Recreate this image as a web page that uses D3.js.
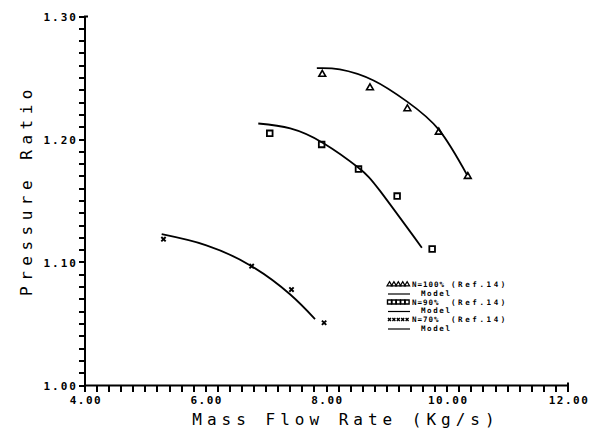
<!DOCTYPE html>
<html>
<head>
<meta charset="utf-8">
<script src="https://cdn.jsdelivr.net/npm/d3@7"></script>
<style>
  html, body { margin: 0; padding: 0; background: #fff; }
  svg { display: block; }
  text { fill: #000; font-family: "DejaVu Sans Mono", monospace; }
</style>
</head>
<body>
<svg id="chart" width="597" height="436"></svg>
<script>
const flow100 = [7.93, 8.72, 9.34, 9.86, 10.34];
const ratio100 = [1.253, 1.242, 1.225, 1.206, 1.170];
const modelFlow100 = [7.84, 8.22, 8.78, 9.33, 9.86, 10.33];
const modelRatio100 = [1.258, 1.257, 1.248, 1.231, 1.208, 1.171];

const flow90 = [7.06, 7.92, 8.53, 9.17, 9.75];
const ratio90 = [1.205, 1.196, 1.176, 1.154, 1.111];
const modelFlow90 = [6.87, 7.40, 7.95, 8.53, 8.89, 9.58];
const modelRatio90 = [1.213, 1.209, 1.197, 1.177, 1.158, 1.112];

const flow70 = [5.30, 6.76, 7.42, 7.96];
const ratio70 = [1.119, 1.097, 1.078, 1.051];
const modelFlow70 = [5.27, 6.01, 6.76, 7.40, 7.81];
const modelRatio70 = [1.123, 1.114, 1.097, 1.074, 1.054];

const xTicks = [4, 6, 8, 10, 12];
const yTicks = [1.0, 1.1, 1.2, 1.3];
const legendLabels = ['N=100%', 'N=90%', 'N=70%'];

const svg = d3.select('#chart');

const x = d3.scaleLinear().domain([4, 12]).range([85, 568]);
const y = d3.scaleLinear().domain([1.0, 1.3]).range([385.5, 16.5]);

// axis frame
const axisPath = d3.path();
axisPath.moveTo(x(4) + 3, y(1.3));
axisPath.lineTo(x(4), y(1.3));
axisPath.lineTo(x(4), y(1.0));
axisPath.lineTo(x(12), y(1.0));
axisPath.lineTo(x(12), y(1.0) - 3);

svg.append('path')
  .attr('d', axisPath.toString())
  .attr('fill', 'none')
  .attr('stroke', '#000')
  .attr('stroke-width', 2);

// minor ticks, 0.2 on x and 0.01 on y, as small rects
svg.append('g')
  .selectAll('rect')
  .data(x.ticks(40))
  .join('rect')
  .attr('x', d => Math.round(x(d)) - 1)
  .attr('y', Math.round(y(1.0)))
  .attr('width', 2)
  .attr('height', 6)
  .attr('fill', '#000');

svg.append('g')
  .selectAll('rect')
  .data(y.ticks(30))
  .join('rect')
  .attr('x', x(4) - 6)
  .attr('y', d => Math.round(y(d)) - 1)
  .attr('width', 6)
  .attr('height', 2)
  .attr('fill', '#000');

svg.append('g')
  .selectAll('text')
  .data(xTicks)
  .join('text')
  .attr('x', d => x(d) + 1)
  .attr('y', 404)
  .attr('text-anchor', 'middle')
  .style('font-size', '11px')
  .style('font-weight', 'bold')
  .style('letter-spacing', '1.5px')
  .text(d => d.toFixed(2));

svg.append('g')
  .selectAll('text')
  .data(yTicks)
  .join('text')
  .attr('x', 78)
  .attr('y', d => y(d) + 4)
  .attr('text-anchor', 'end')
  .style('font-size', '11px')
  .style('font-weight', 'bold')
  .style('letter-spacing', '2px')
  .text(d => d.toFixed(2));

// axis titles
svg.append('text')
  .attr('x', 346)
  .attr('y', 425)
  .attr('text-anchor', 'middle')
  .style('font-size', '16px')
  .style('letter-spacing', '5px')
  .text('Mass Flow Rate (Kg/s)');

svg.append('text')
  .attr('transform', 'translate(32,190) rotate(-90)')
  .attr('text-anchor', 'middle')
  .style('font-size', '16px')
  .style('letter-spacing', '5.5px')
  .text('Pressure Ratio');

// model curves
const line = d3.line()
  .x(d => x(d[0]))
  .y(d => y(d[1]))
  .curve(d3.curveNatural);

const models = [
  d3.zip(modelFlow100, modelRatio100),
  d3.zip(modelFlow90, modelRatio90),
  d3.zip(modelFlow70, modelRatio70)
];

svg.append('g')
  .selectAll('path')
  .data(models)
  .join('path')
  .attr('d', line)
  .attr('fill', 'none')
  .attr('stroke', '#000')
  .attr('stroke-width', 1.8);

// markers
const tri = d3.symbol().type(d3.symbolTriangle);
const sq = d3.symbol().type(d3.symbolSquare);
const cross = d3.symbol().type(d3.symbolX);

const drawMarks = (flows, ratios, sym, size, sw) => {
  svg.append('g')
    .selectAll('path')
    .data(d3.zip(flows, ratios))
    .join('path')
    .attr('transform', d => `translate(${x(d[0])},${y(d[1])})`)
    .attr('d', sym.size(size)())
    .attr('fill', 'none')
    .attr('stroke', '#000')
    .attr('stroke-width', sw);
};

drawMarks(flow100, ratio100, tri, 20, 1.6);
drawMarks(flow90, ratio90, sq, 32, 1.8);
drawMarks(flow70, ratio70, cross, 14, 1.9);

// legend
const legendSyms = [[tri, 11, 1.2], [sq, 16, 1.4], [cross, 7, 1.4]];
const legendTop = [287, 304.5, 322];

legendLabels.forEach((lab, i) => {
  const b = legendTop[i];
  const s = legendSyms[i];
  const g = svg.append('g');
  g.selectAll('path')
    .data(d3.range(5))
    .join('path')
    .attr('transform', k => `translate(${389.5 + k * 4.4},${b - 2.5})`)
    .attr('d', s[0].size(s[1])())
    .attr('fill', 'none')
    .attr('stroke', '#000')
    .attr('stroke-width', s[2]);
  g.append('text')
    .attr('x', 412)
    .attr('y', b)
    .style('font-size', '7.5px')
    .style('font-weight', 'bold')
    .style('letter-spacing', '1px')
    .text(lab);
  g.append('text')
    .attr('x', 451)
    .attr('y', b)
    .style('font-size', '7.5px')
    .style('font-weight', 'bold')
    .style('letter-spacing', '2.6px')
    .text('(Ref.14)');
  g.append('line')
    .attr('x1', 388).attr('x2', 410)
    .attr('y1', b + 7).attr('y2', b + 7)
    .attr('stroke', '#000')
    .attr('stroke-width', 1.2);
  g.append('text')
    .attr('x', 421)
    .attr('y', b + 8.5)
    .style('font-size', '7.5px')
    .style('font-weight', 'bold')
    .style('letter-spacing', '1.6px')
    .text('Model');
});
</script>
</body>
</html>
